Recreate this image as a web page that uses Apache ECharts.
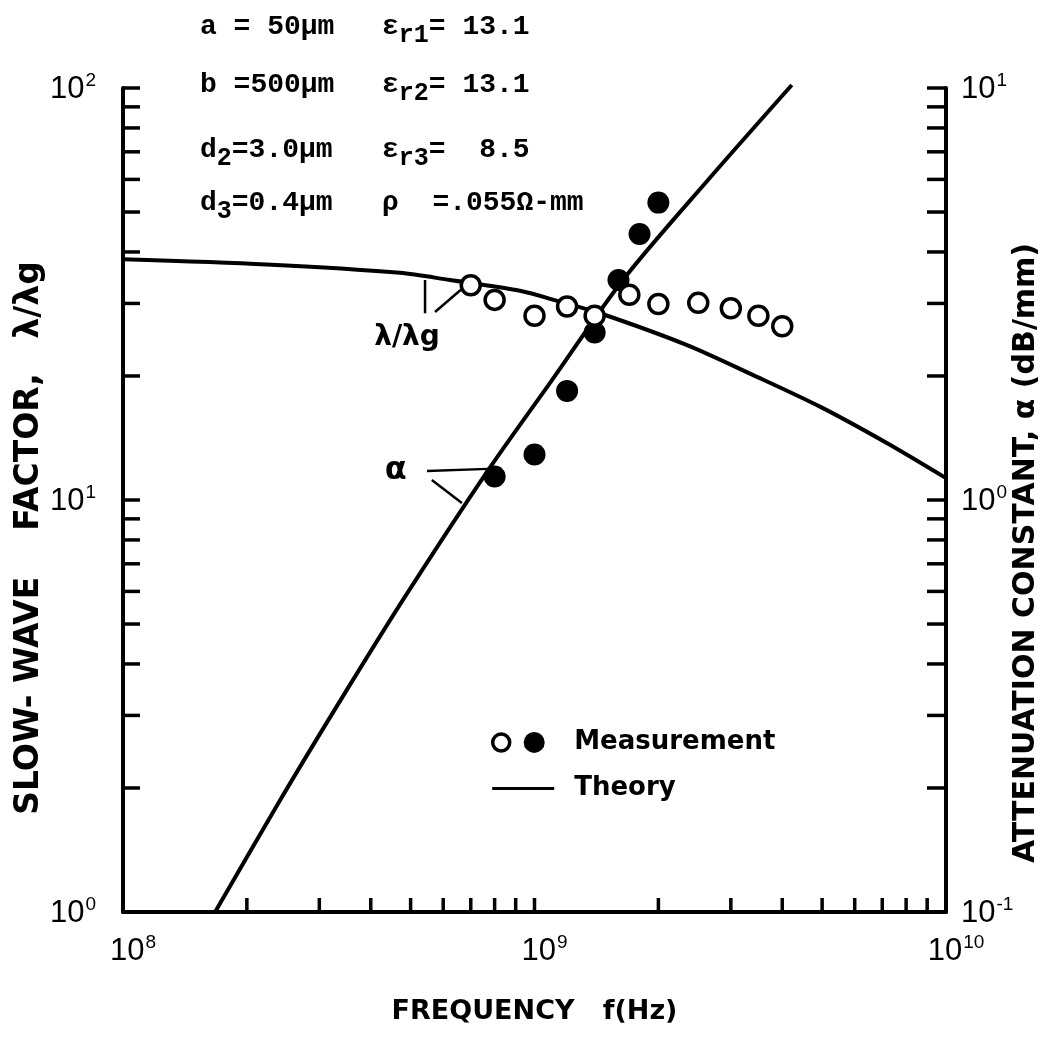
<!DOCTYPE html>
<html>
<head>
<meta charset="utf-8">
<script src="https://cdn.jsdelivr.net/npm/echarts@6/dist/echarts.min.js"></script>
<style>
html,body{margin:0;padding:0;background:#fff;overflow:hidden;}
#chart{width:1049px;height:1043px;}
</style>
</head>
<body>
<div id="chart"></div>
<script>
// ---- Data ----
// Measurement, slow-wave factor (open circles, left axis)
const freqOpen = [7.0e8, 8.0e8, 1.0e9, 1.2e9, 1.4e9, 1.7e9, 2.0e9, 2.5e9, 3.0e9, 3.5e9, 4.0e9];
const slowOpen = [33.2, 30.6, 28.0, 29.5, 28.0, 31.5, 29.9, 30.1, 29.2, 28.0, 26.4];
// Measurement, attenuation (filled circles, right axis)
const freqFilled = [8.0e8, 1.0e9, 1.2e9, 1.4e9, 1.6e9, 1.8e9, 2.0e9];
const alphaFilled = [1.14, 1.29, 1.84, 2.55, 3.42, 4.42, 5.27];
// Theory, slow-wave factor
const freqSlowTh = [1e8, 2.23e8, 4.71e8, 6.23e8, 9.22e8, 1.153e9, 1.443e9, 2.34e9, 3.40e9, 4.94e9, 7.18e9, 1e10];
const slowTh = [38.4, 37.3, 35.6, 34.2, 32.2, 30.3, 28.4, 23.8, 20.1, 16.85, 13.75, 11.3];
// Theory, attenuation
const freqAlphaTh = [1.674e8, 2.41e8, 3.31e8, 4.79e8, 7.71e8, 1.103e9, 1.64e9, 2.64e9, 4.22e9];
const alphaTh = [0.1, 0.187, 0.316, 0.572, 1.18, 1.955, 3.42, 5.98, 10.17];
// Axis ranges and tick labels
const xRange = [1e8, 1e10];
const yLeftRange = [1, 100];
const yRightRange = [0.1, 10];
const xTickLabels = {'100000000': ['10', '8'], '1000000000': ['10', '9'], '10000000000': ['10', '10']};
const yLeftTickLabels = {'1': ['10', '0'], '10': ['10', '1'], '100': ['10', '2']};
const yRightTickLabels = {'0.1': ['10', '-1'], '1': ['10', '0'], '10': ['10', '1']};
const minorMult = [2, 3, 4, 5, 6, 7, 8, 9];
// Annotation leader lines (data coordinates)
const slowLeader1 = [[5.42e8, 34.2], [5.42e8, 28.4]];
const slowLeader2 = [[5.73e8, 28.6], [6.70e8, 32.7]];
const alphaLeader1 = [[5.48e8, 1.176], [7.71e8, 1.19]];
const alphaLeader2 = [[5.63e8, 1.118], [6.66e8, 0.983]];
// Parameter block
const params = [
  {l: [['a', ''], [' = 50μm', '']], r: [['ε', ''], ['r1', 'sub'], ['= 13.1', '']]},
  {l: [['b', ''], [' =500μm', '']], r: [['ε', ''], ['r2', 'sub'], ['= 13.1', '']]},
  {l: [['d', ''], ['2', 'sub'], ['=3.0μm', '']], r: [['ε', ''], ['r3', 'sub'], ['=  8.5', '']]},
  {l: [['d', ''], ['3', 'sub'], ['=0.4μm', '']], r: [['ρ  =.055Ω-mm', '']]}
];

// ---- Helpers ----
function decadeTicks(lo, hi) {
  const out = [];
  for (let d = lo; d < hi * 0.999; d *= 10) {
    out.push(d);
    minorMult.forEach(m => out.push(m * d));
  }
  out.push(hi);
  return out;
}
function supFmt(map) {
  return function (v) {
    const key = String(Number(v.toPrecision(6)));
    const t = map[key];
    if (!t) return '';
    return '{b|' + t[0] + '}{s|' + t[1] + '}';
  };
}
const tickFont = 'Liberation Sans';
const tickRich = {
  b: {fontFamily: tickFont, fontSize: 31, color: '#000', verticalAlign: 'bottom', lineHeight: 34},
  s: {fontFamily: tickFont, fontSize: 19, color: '#000', verticalAlign: 'top', lineHeight: 34, padding: [0, 0, 14, 1]}
};
const axisLineStyle = {color: '#000', width: 4};
const nameStyle = {fontFamily: 'DejaVu Sans', fontWeight: 'bold', fontSize: 27, color: '#000'};
const leftNameStyle = {fontFamily: 'DejaVu Sans', fontWeight: 'bold', fontSize: 33, color: '#000', padding: [0, 76, 0, 0]};
const rightNameStyle = {fontFamily: 'DejaVu Sans', fontWeight: 'bold', fontSize: 30, color: '#000', padding: [0, 106, 0, 0]};

const chart = echarts.init(document.getElementById('chart'), null, {renderer: 'canvas', width: 1049, height: 1043});

function tickSeries(kind) {
  let data, yIdx = 0;
  if (kind === 'x') data = decadeTicks(xRange[0], xRange[1]).map(v => [v, yLeftRange[0]]);
  if (kind === 'yl') data = decadeTicks(yLeftRange[0], yLeftRange[1]).map(v => [xRange[0], v]);
  if (kind === 'yr') { yIdx = 1; data = decadeTicks(yRightRange[0], yRightRange[1]).map(v => [xRange[1], v]); }
  return {
    type: 'custom', xAxisIndex: 0, yAxisIndex: yIdx, silent: true, clip: false, z: 5,
    data: data,
    renderItem: function (p, api) {
      const pt = api.coord([api.value(0), api.value(1)]);
      let x2 = pt[0], y2 = pt[1];
      if (kind === 'x') y2 -= 14;
      if (kind === 'yl') x2 += 17;
      if (kind === 'yr') x2 -= 19;
      return {type: 'line', shape: {x1: pt[0], y1: pt[1], x2: x2, y2: y2}, style: {stroke: '#000', lineWidth: 3.5}};
    }
  };
}

const option = {
  backgroundColor: '#fff',
  animation: false,
  grid: {left: 123, right: 103, top: 88, bottom: 131, containLabel: false, outerBoundsMode: 'none'},
  xAxis: {
    type: 'log', logBase: 10, min: xRange[0], max: xRange[1],
    name: 'FREQUENCY   f(Hz)', nameLocation: 'middle', nameGap: 86, nameMoveOverlap: false, nameTextStyle: nameStyle,
    axisLine: {show: true, lineStyle: axisLineStyle},
    axisTick: {show: false}, minorTick: {show: false}, splitLine: {show: false},
    axisLabel: {formatter: supFmt(xTickLabels), rich: tickRich, margin: 21, padding: [0, 0, 0, 20]}
  },
  yAxis: [
    {
      type: 'log', logBase: 10, min: yLeftRange[0], max: yLeftRange[1], position: 'left',
      name: 'SLOW- WAVE    FACTOR,   λ/λg', nameLocation: 'middle', nameRotate: 90, nameGap: 77, nameMoveOverlap: false, nameTextStyle: leftNameStyle,
      axisLine: {show: true, lineStyle: axisLineStyle},
      axisTick: {show: false}, minorTick: {show: false}, splitLine: {show: false},
      axisLabel: {formatter: supFmt(yLeftTickLabels), rich: tickRich, margin: 27}
    },
    {
      type: 'log', logBase: 10, min: yRightRange[0], max: yRightRange[1], position: 'right',
      name: 'ATTENUATION CONSTANT, α (dB/mm)', nameLocation: 'middle', nameRotate: 90, nameGap: 65, nameMoveOverlap: false, nameTextStyle: rightNameStyle,
      axisLine: {show: true, lineStyle: axisLineStyle},
      axisTick: {show: false}, minorTick: {show: false}, splitLine: {show: false},
      axisLabel: {formatter: supFmt(yRightTickLabels), rich: tickRich, margin: 15}
    }
  ],
  series: [
    tickSeries('x'), tickSeries('yl'), tickSeries('yr'),
    {
      name: 'Theory λ/λg', type: 'line', xAxisIndex: 0, yAxisIndex: 0, smooth: 0.3, showSymbol: false, symbol: 'none',
      lineStyle: {color: '#000', width: 4}, z: 3,
      data: freqSlowTh.map((f, i) => [f, slowTh[i]])
    },
    {
      name: 'Theory α', type: 'line', xAxisIndex: 0, yAxisIndex: 1, smooth: 0.3, showSymbol: false, symbol: 'none', clip: false,
      lineStyle: {color: '#000', width: 4}, z: 3,
      data: freqAlphaTh.map((f, i) => [f, alphaTh[i]])
    },
    {
      name: 'Measured α', type: 'scatter', xAxisIndex: 0, yAxisIndex: 1, symbol: 'circle', symbolSize: 22,
      itemStyle: {color: '#000', opacity: 1}, z: 4,
      data: freqFilled.map((f, i) => [f, alphaFilled[i]])
    },
    {
      name: 'Measured λ/λg', type: 'scatter', xAxisIndex: 0, yAxisIndex: 0, symbol: 'circle', symbolSize: 19,
      itemStyle: {color: '#fff', borderColor: '#000', borderWidth: 3.5, opacity: 1}, z: 6,
      data: freqOpen.map((f, i) => [f, slowOpen[i]])
    },
    {type: 'line', xAxisIndex: 0, yAxisIndex: 0, symbol: 'none', lineStyle: {color: '#000', width: 2.5}, data: slowLeader1, z: 3},
    {type: 'line', xAxisIndex: 0, yAxisIndex: 0, symbol: 'none', lineStyle: {color: '#000', width: 2.5}, data: slowLeader2, z: 3},
    {type: 'line', xAxisIndex: 0, yAxisIndex: 1, symbol: 'none', lineStyle: {color: '#000', width: 2.5}, data: alphaLeader1, z: 3},
    {type: 'line', xAxisIndex: 0, yAxisIndex: 1, symbol: 'none', lineStyle: {color: '#000', width: 2.5}, data: alphaLeader2, z: 3}
  ]
};
chart.setOption(option);

// ---- Text annotations positioned from data coordinates ----
const monoRich = {
  n: {fontFamily: 'Liberation Mono', fontWeight: 'bold', fontSize: 28, color: '#000'},
  sub: {fontFamily: 'Liberation Mono', fontWeight: 'bold', fontSize: 25, color: '#000', padding: [18, 0, 0, 0]}
};
function richStr(parts) {
  return parts.map(p => '{' + (p[1] === 'sub' ? 'sub' : 'n') + '|' + p[0] + '}').join('');
}
const rowY = [28, 86, 151, 204];
const graphics = [];
params.forEach((row, i) => {
  graphics.push({type: 'text', left: 200, top: rowY[i] - 15, style: {text: richStr(row.l), rich: monoRich, fill: '#000', verticalAlign: 'top'}});
  graphics.push({type: 'text', left: 382, top: rowY[i] - 15, style: {text: richStr(row.r), rich: monoRich, fill: '#000', verticalAlign: 'top'}});
});
const slowLabelPos = chart.convertToPixel({xAxisIndex: 0, yAxisIndex: 0}, [4.9e8, 24.7]);
graphics.push({type: 'text', x: slowLabelPos[0], y: slowLabelPos[1],
  style: {text: 'λ/λg', font: 'bold 28px "DejaVu Sans"', fill: '#000', align: 'center', verticalAlign: 'middle'}});
const alphaLabelPos = chart.convertToPixel({xAxisIndex: 0, yAxisIndex: 1}, [4.6e8, 1.18]);
graphics.push({type: 'text', x: alphaLabelPos[0], y: alphaLabelPos[1],
  style: {text: 'α', font: 'bold 32px "DejaVu Sans"', fill: '#000', align: 'center', verticalAlign: 'middle'}});
// Legend
const legOpen = chart.convertToPixel({xAxisIndex: 0, yAxisIndex: 0}, [8.3e8, 2.58]);
graphics.push({type: 'circle', shape: {cx: legOpen[0], cy: legOpen[1], r: 8.5}, style: {fill: '#fff', stroke: '#000', lineWidth: 3.5}});
graphics.push({type: 'circle', shape: {cx: legOpen[0] + 33, cy: legOpen[1], r: 10.5}, style: {fill: '#000'}});
graphics.push({type: 'text', x: legOpen[0] + 73, y: legOpen[1], style: {text: 'Measurement', font: 'bold 26px "DejaVu Sans"', fill: '#000', verticalAlign: 'middle'}});
graphics.push({type: 'line', shape: {x1: legOpen[0] - 9, y1: legOpen[1] + 46, x2: legOpen[0] + 53, y2: legOpen[1] + 46}, style: {stroke: '#000', lineWidth: 3}});
graphics.push({type: 'text', x: legOpen[0] + 73, y: legOpen[1] + 46, style: {text: 'Theory', font: 'bold 26px "DejaVu Sans"', fill: '#000', verticalAlign: 'middle'}});
chart.setOption({graphic: graphics});
</script>
</body>
</html>
